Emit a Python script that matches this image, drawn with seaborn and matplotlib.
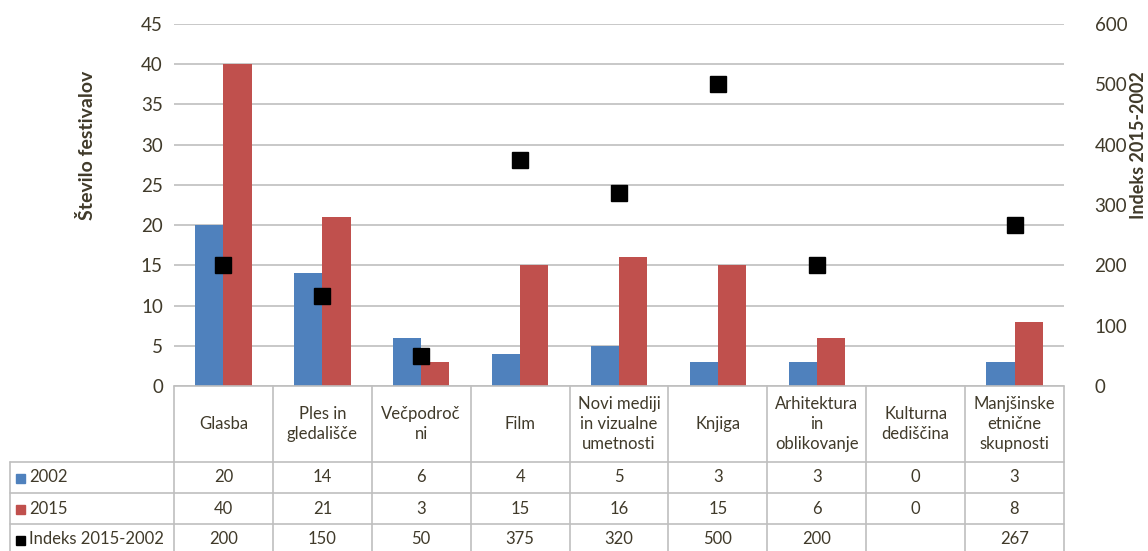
import numpy as np
import pandas as pd
import matplotlib
matplotlib.use('Agg')
import matplotlib.pyplot as plt
import seaborn as sns

# data
categories = ['Glasba', 'Ples in\ngledališče', 'Večpodroč\nni', 'Film',
              'Novi mediji\nin vizualne\numetnosti', 'Knjiga',
              'Arhitektura\nin\noblikovanje', 'Kulturna\ndediščina',
              'Manjšinske\netnične\nskupnosti']
values_2002 = [20, 14, 6, 4, 5, 3, 3, 0, 3]
values_2015 = [40, 21, 3, 15, 16, 15, 6, 0, 8]
index_vals = [200, 150, 50, 375, 320, 500, 200, np.nan, 267]
left_ticks = [0, 5, 10, 15, 20, 25, 30, 35, 40, 45]
right_ticks = [0, 100, 200, 300, 400, 500, 600]

BLUE = '#4F81BD'
RED = '#C0504D'
TXT = '#403A2A'
GRID = '#BFBFBF'

sns.set_theme(style='white')
plt.rcParams['font.family'] = ['Lato', 'DejaVu Sans']

W, H = 1148, 551
fig = plt.figure(figsize=(W / 100, H / 100), dpi=100)

x0, x1, ytop, ybot = 174, 1064, 24, 386
ax = fig.add_axes([x0 / W, (H - ybot) / H, (x1 - x0) / W, (ybot - ytop) / H])

df = pd.DataFrame({
    'cat': categories * 2,
    'year': ['2002'] * len(categories) + ['2015'] * len(categories),
    'val': values_2002 + values_2015,
})
sns.barplot(data=df, x='cat', y='val', hue='year', order=categories,
            palette=[BLUE, RED], width=0.57, gap=0, saturation=1,
            linewidth=0, legend=False, ax=ax)
n = len(categories)
ax.set_xlim(-0.5, n - 0.5)
ax.set_ylim(0, 45)
ax.set_yticks(left_ticks)
ax.yaxis.grid(True, color=GRID, linewidth=1.2)
ax.set_axisbelow(True)
ax.set_xticks([])
ax.set_xlabel('')
ax.set_ylabel('')
for s in ax.spines.values():
    s.set_visible(False)
ax.tick_params(axis='y', length=0, pad=8, labelsize=13.5, labelcolor=TXT)

ax2 = ax.twinx()
ax2.plot(np.arange(n), index_vals, linestyle='none', marker='s',
         markersize=11, color='black')
ax2.set_ylim(0, 600)
ax2.set_yticks(right_ticks)
for s in ax2.spines.values():
    s.set_visible(False)
ax2.tick_params(axis='y', length=0, pad=22, labelsize=13.5, labelcolor=TXT)
ax2.grid(False)

fig.text(87 / W, 1 - 145 / H, 'Število festivalov', rotation=90, ha='center',
         va='center', fontsize=14, fontweight='bold', color=TXT)
fig.text(1138 / W, 1 - 145 / H, 'Indeks 2015-2002', rotation=90, ha='center',
         va='center', fontsize=13, fontweight='bold', color=TXT)

# data table under the plot
def px(x):
    return x / W

def py(y):
    return 1 - y / H

bounds = np.linspace(x0, x1, n + 1)
line_kw = dict(color=GRID, linewidth=1.2, transform=fig.transFigure)
rows_y = [462, 493, 524, 555]
fig.add_artist(plt.Line2D([px(x0), px(x1)], [py(ybot), py(ybot)], **line_kw))
for yy in rows_y[:-1]:
    fig.add_artist(plt.Line2D([px(10), px(x1)], [py(yy), py(yy)], **line_kw))
for b in bounds:
    fig.add_artist(plt.Line2D([px(b), px(b)], [py(ybot), py(H)], **line_kw))
fig.add_artist(plt.Line2D([px(10), px(10)], [py(462), py(H)], **line_kw))

centers = (bounds[:-1] + bounds[1:]) / 2
for c, lab in zip(centers, categories):
    fig.text(px(c), py(424), lab, ha='center', va='center', fontsize=12,
             color=TXT, linespacing=1.3)

row_labels = ['2002', '2015', 'Indeks 2015-2002']
row_colors = [BLUE, RED, 'black']
row_data = [values_2002, values_2015, index_vals]
row_cy = [477.5, 508.5, 539.5]
for lab, col, vals, cy in zip(row_labels, row_colors, row_data, row_cy):
    fig.add_artist(plt.Rectangle((px(16), py(cy + 5)), 9 / W, 9 / H,
                                 color=col, transform=fig.transFigure))
    fig.text(px(29), py(cy), lab, ha='left', va='center', fontsize=12,
             color=TXT)
    for c, v in zip(centers, vals):
        if not np.isnan(v):
            fig.text(px(c), py(cy), f'{int(v)}', ha='center', va='center',
                     fontsize=12, color=TXT)

fig.savefig('out.png', dpi=100)
